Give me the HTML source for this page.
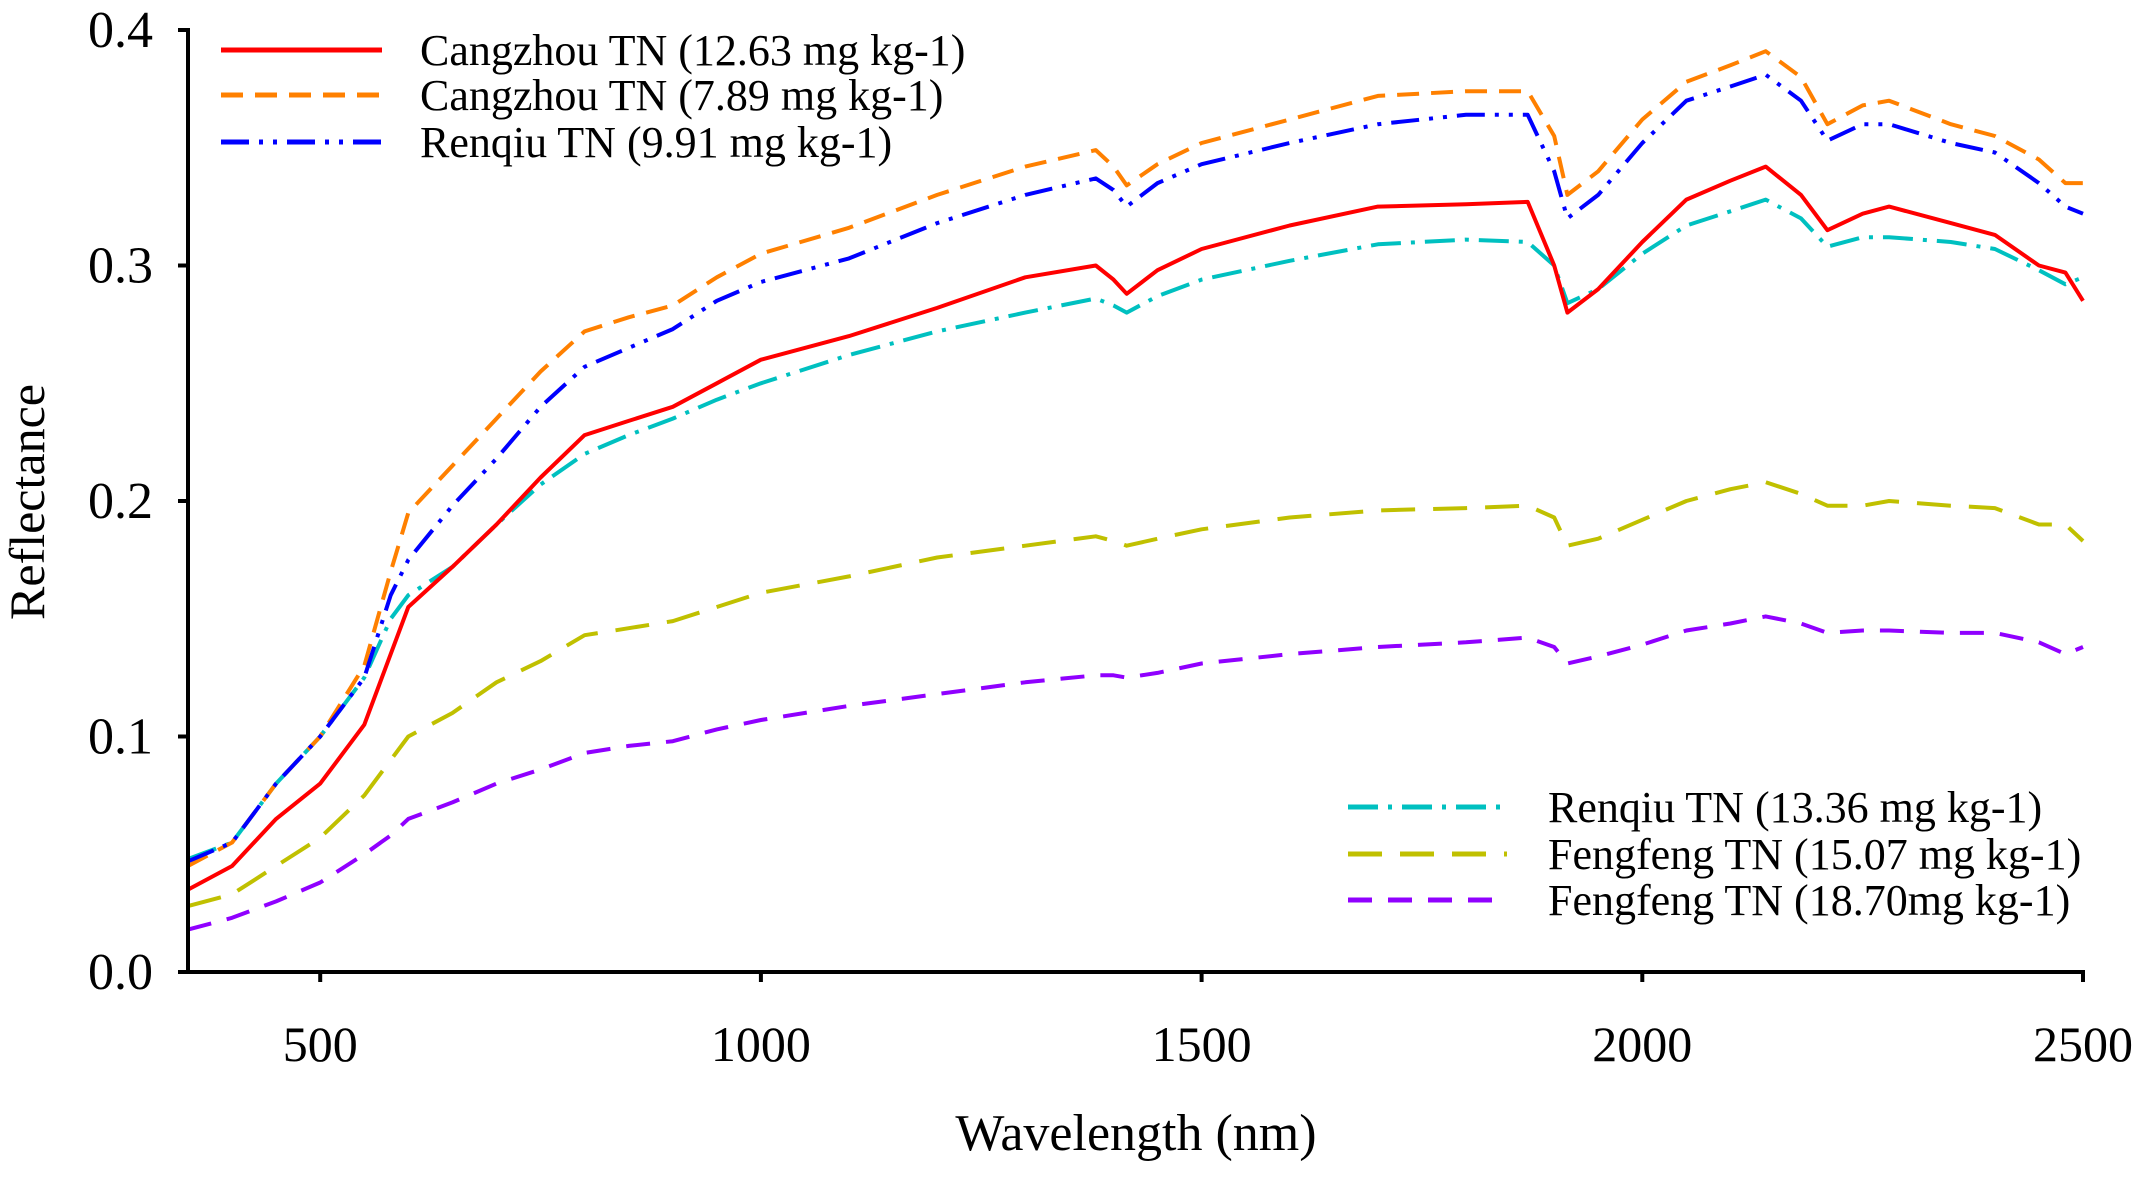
<!DOCTYPE html>
<html><head><meta charset="utf-8"><style>
html,body{margin:0;padding:0;background:#fff;}
svg{display:block;font-family:"Liberation Serif",serif;}
</style></head><body>
<svg id="chart" width="2139" height="1177" viewBox="0 0 2139 1177" xmlns="http://www.w3.org/2000/svg">
<g id="plot"></g>
<g id="axes"></g>
<g id="legend"></g>
</svg>
<script>
const wavelengths=[350,400,450,500,550,580,600,650,700,750,800,850,900,950,1000,1100,1200,1300,1380,1400,1415,1450,1500,1600,1700,1800,1870,1900,1915,1950,2000,2050,2100,2140,2180,2210,2250,2280,2350,2400,2450,2480,2500];
const redVals=[.035,.045,.065,.08,.105,.135,.155,.172,.19,.21,.228,.234,.24,.25,.26,.27,.282,.295,.3,.294,.288,.298,.307,.317,.325,.326,.327,.3,.28,.29,.31,.328,.336,.342,.33,.315,.322,.325,.318,.313,.3,.297,.285];
const orangeVals=[.045,.055,.08,.1,.13,.17,.195,.215,.235,.255,.272,.278,.283,.295,.305,.316,.33,.342,.349,.342,.334,.343,.352,.362,.372,.374,.374,.355,.33,.34,.362,.378,.385,.391,.38,.36,.368,.37,.36,.355,.345,.335,.335];
const blueVals=[.047,.055,.08,.1,.125,.16,.175,.198,.218,.24,.257,.265,.273,.285,.293,.303,.318,.33,.337,.332,.325,.335,.343,.352,.36,.364,.364,.34,.32,.33,.352,.37,.376,.381,.37,.353,.36,.36,.352,.348,.335,.325,.322];
const cyanVals=[.048,.055,.08,.1,.125,.15,.16,.172,.19,.207,.22,.228,.235,.243,.25,.262,.272,.28,.286,.283,.28,.287,.294,.302,.309,.311,.31,.3,.284,.29,.305,.317,.323,.328,.32,.308,.312,.312,.31,.307,.298,.292,.295];
const yellowVals=[.028,.033,.045,.057,.075,.09,.1,.11,.123,.132,.143,.146,.149,.155,.161,.168,.176,.181,.185,.183,.181,.184,.188,.193,.196,.197,.198,.193,.181,.184,.192,.2,.205,.208,.203,.198,.198,.2,.198,.197,.19,.19,.183];
const purpleVals=[.018,.023,.03,.038,.05,.058,.065,.072,.08,.086,.093,.096,.098,.103,.107,.113,.118,.123,.126,.126,.125,.127,.131,.135,.138,.14,.142,.138,.131,.134,.139,.145,.148,.151,.148,.144,.145,.145,.144,.144,.14,.135,.138];
const xTicks=[500,1000,1500,2000,2500];
const yTicks=[0.0,0.1,0.2,0.3,0.4];
const seriesNames=["Cangzhou TN (12.63 mg kg-1)","Cangzhou TN (7.89 mg kg-1)","Renqiu TN (9.91 mg kg-1)","Renqiu TN (13.36 mg kg-1)","Fengfeng TN (15.07 mg kg-1)","Fengfeng TN (18.70mg kg-1)"];

const NS="http://www.w3.org/2000/svg";
const X0=188,X1=2083,Y0=972,Y1=30;
function xs(w){return X0+(w-350)/(2500-350)*(X1-X0);}
function ys(v){return Y0-v/0.4*(Y0-Y1);}
function mk(tag,attrs,parent){const e=document.createElementNS(NS,tag);for(const k in attrs)e.setAttribute(k,attrs[k]);parent.appendChild(e);return e;}
const plot=document.getElementById('plot'),axes=document.getElementById('axes'),legend=document.getElementById('legend');
const styles=[
 {c:"#ff0000",d:"none",key:"red"},
 {c:"#ff8000",d:"22 12",key:"orange"},
 {c:"#0000ff",d:"28 10 4 10 4 10",key:"blue"},
 {c:"#00c0c0",d:"30 10 4 10",key:"cyan"},
 {c:"#c0c000",d:"34 18",key:"yellow"},
 {c:"#9000ff",d:"24 16",key:"purple"}];
const allVals=[redVals,orangeVals,blueVals,cyanVals,yellowVals,purpleVals];
[5,4,3,1,2,0].forEach(i=>{
  const pts=wavelengths.map((w,j)=>xs(w).toFixed(1)+","+ys(allVals[i][j]).toFixed(1)).join(" ");
  const p=mk('polyline',{points:pts,fill:"none",stroke:styles[i].c,"stroke-width":4,"stroke-dasharray":styles[i].d,"stroke-linejoin":"round"},plot);
  
  
});
const ya=mk('line',{x1:X0,y1:Y1-2,x2:X0,y2:Y0+2,stroke:"#000","stroke-width":4},axes);


const xa=mk('line',{x1:X0-2,y1:Y0,x2:X1+2,y2:Y0,stroke:"#000","stroke-width":4},axes);


yTicks.forEach(v=>{
  const y=ys(v);
  mk('line',{x1:X0-10,y1:y,x2:X0,y2:y,stroke:"#000","stroke-width":4},axes);
  const t=mk('text',{x:153,y:y+17,"text-anchor":"end","font-size":52},axes);
  t.textContent=v.toFixed(1);
  
  
});
xTicks.forEach(w=>{
  const x=xs(w);
  mk('line',{x1:x,y1:Y0,x2:x,y2:Y0+10,stroke:"#000","stroke-width":4},axes);
  const t=mk('text',{x:x,y:1061,"text-anchor":"middle","font-size":50},axes);
  t.textContent=w;
  
  
});
const xt=mk('text',{x:1136,y:1150,"text-anchor":"middle","font-size":52},axes);
xt.textContent="Wavelength (nm)";


const yt=mk('text',{x:0,y:0,"text-anchor":"middle","font-size":50,transform:"translate(44,502) rotate(-90)"},axes);
yt.textContent="Reflectance";


const legPos=[[221,382,420,50],[221,382,420,95],[221,382,420,142],[1348,1507,1548,807],[1348,1507,1548,854],[1348,1507,1548,900]];
legPos.forEach((p,i)=>{
  const l=mk('line',{x1:p[0],y1:p[3],x2:p[1],y2:p[3],stroke:styles[i].c,"stroke-width":5,"stroke-dasharray":styles[i].d},legend);
  
  
  const t=mk('text',{x:p[2],y:p[3]+15,"font-size":44},legend);
  t.textContent=seriesNames[i];
  
  
});
</script>
</body></html>
